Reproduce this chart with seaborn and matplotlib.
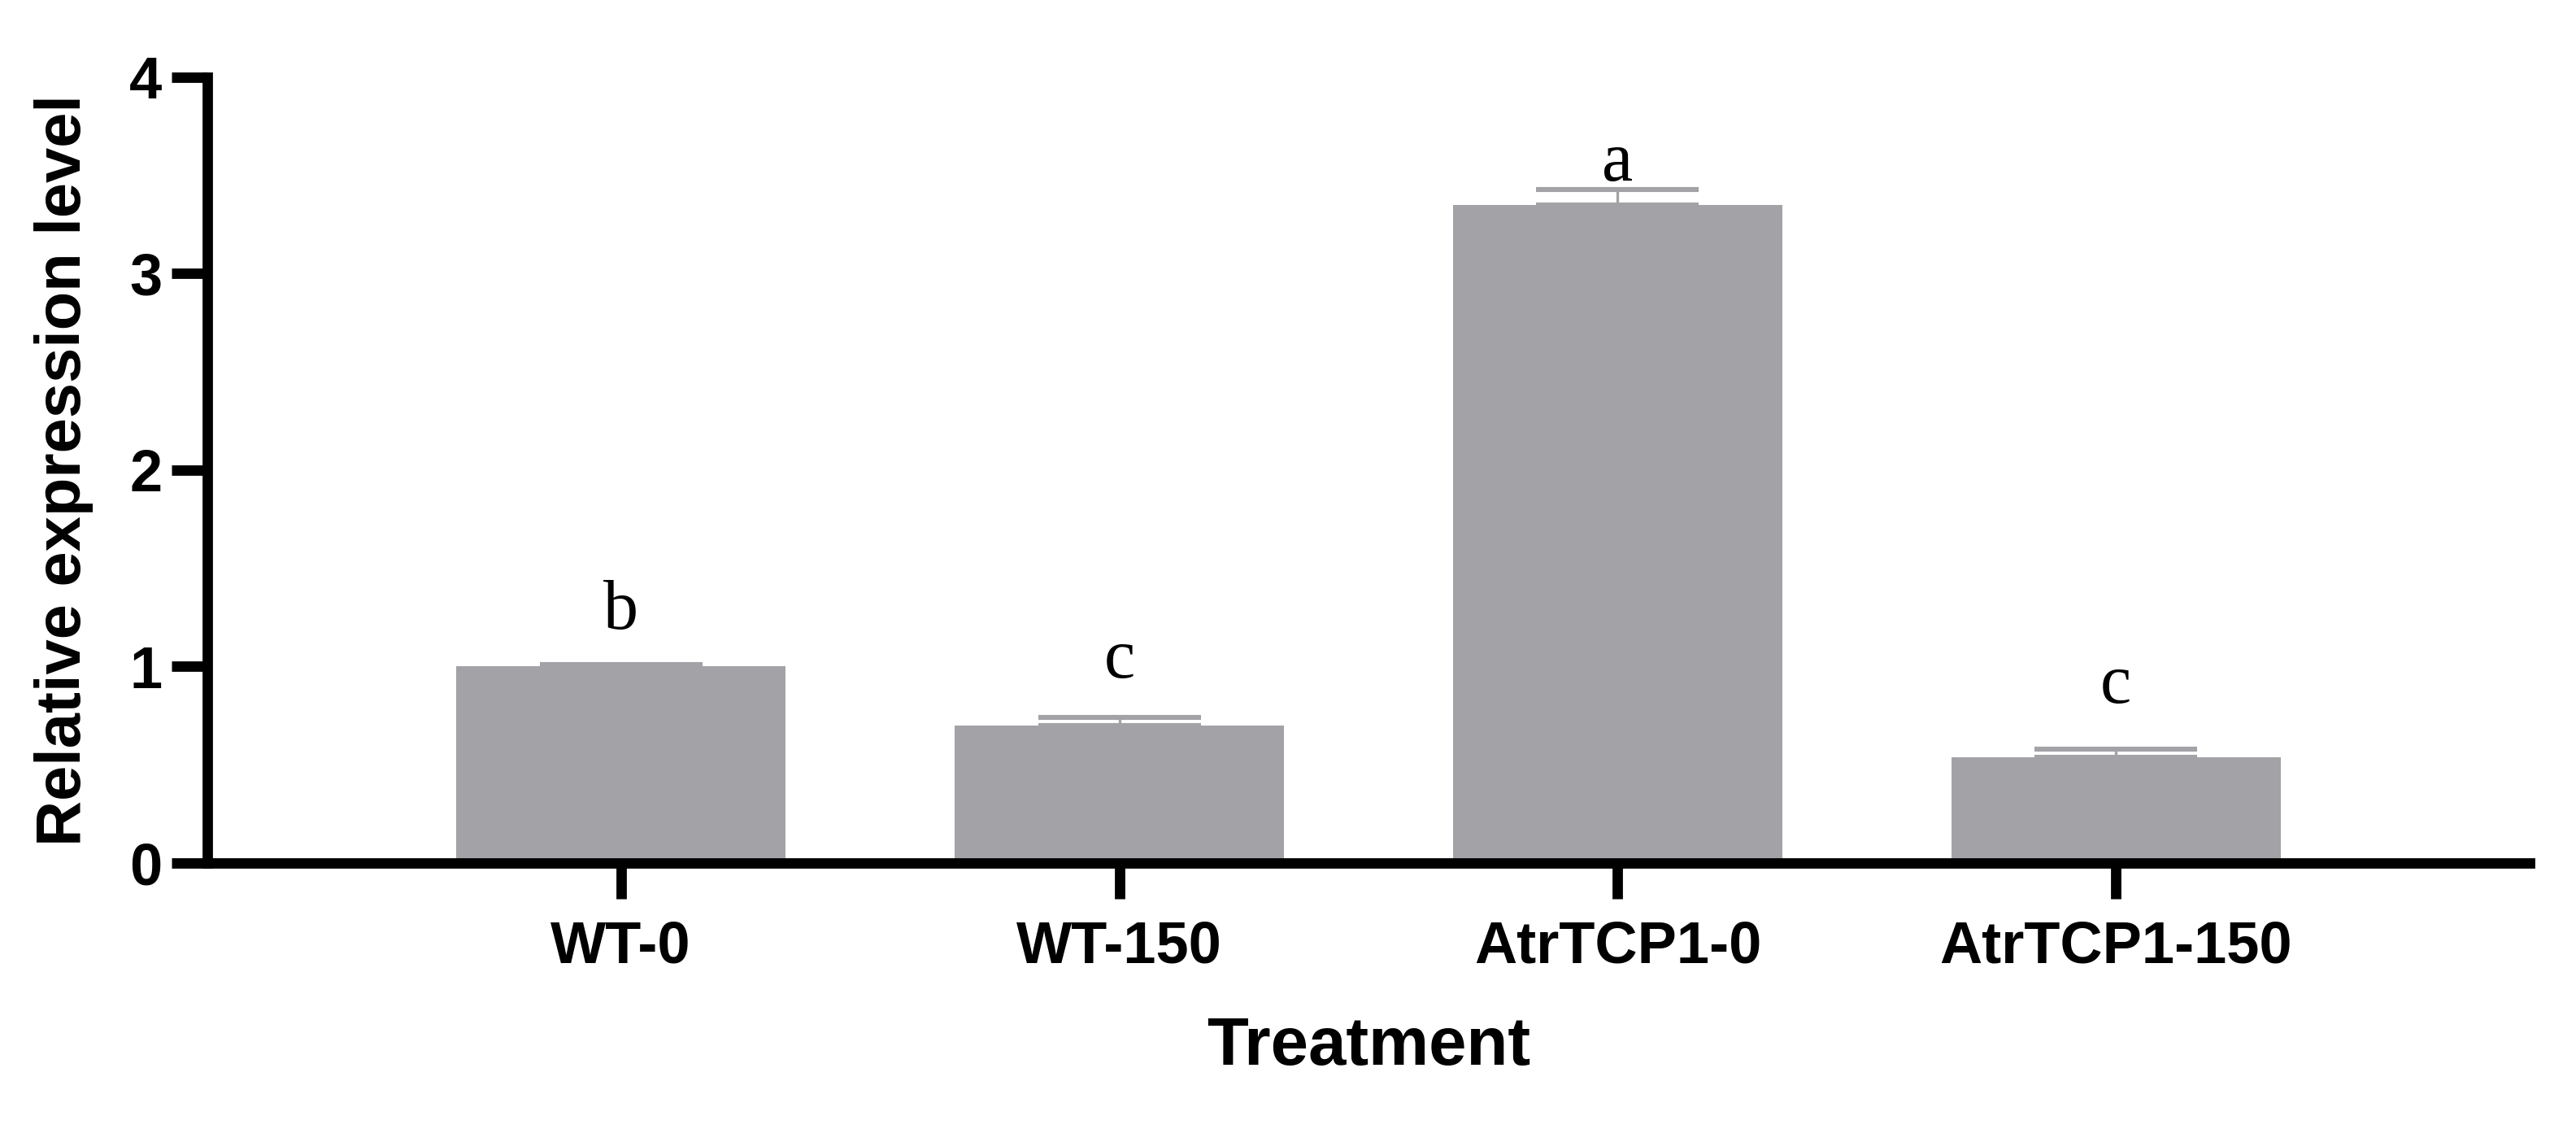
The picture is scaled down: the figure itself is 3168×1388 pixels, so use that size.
import matplotlib
matplotlib.use("Agg")
import matplotlib.pyplot as plt
import seaborn as sns
import pandas as pd
import numpy as np

categories = ["WT-0", "WT-150", "AtrTCP1-0", "AtrTCP1-150"]
values = [1.00, 0.70, 3.35, 0.54]
errors = [0.01, 0.04, 0.08, 0.04]
letters = ["b", "c", "a", "c"]
letter_y = [1.28, 1.03, 3.56, 0.90]

sns.set_theme(style="ticks")
plt.rcParams['font.family'] = ['Liberation Sans', 'DejaVu Sans']
plt.rcParams['text.color'] = 'black'
plt.rcParams['axes.labelcolor'] = 'black'
plt.rcParams['xtick.color'] = 'black'
plt.rcParams['ytick.color'] = 'black'

df = pd.DataFrame({"Treatment": categories, "value": values})

fig = plt.figure(figsize=(15.84, 6.94), dpi=200)
ax = fig.add_axes([0.0805, 0.2356, 0.9015, 0.696])

bar_color = "#A3A2A7"
sns.barplot(data=df, x="Treatment", y="value", color=bar_color, width=0.66,
            errorbar=None, ax=ax, saturation=1)
for p in ax.patches:
    p.set_edgecolor("none")

xpos = np.arange(len(categories))
ax.errorbar(xpos, values, yerr=[np.zeros(len(errors)), errors], fmt="none",
            ecolor="#A3A2A7", elinewidth=1.2, capsize=36, capthick=2.2, zorder=3)

for x, t, ly in zip(xpos, letters, letter_y):
    ax.text(x, ly, t, ha="center", va="center", fontsize=31, color="black",
            family=["Liberation Serif", "DejaVu Serif"])

ax.set_xlim(-0.83, 3.83)
ax.set_ylim(0, 4)
ax.set_yticks([0, 1, 2, 3, 4])
sns.despine(ax=ax)
for s in ["left", "bottom"]:
    ax.spines[s].set_linewidth(4.6)
    ax.spines[s].set_color("black")
    ax.spines[s].set_capstyle("projecting")
ax.tick_params(axis="both", length=16, width=4.6, color="black", labelcolor="black",
               labelsize=26, pad=4)
ax.tick_params(axis="x", pad=9)
for lab in ax.get_xticklabels() + ax.get_yticklabels():
    lab.set_fontweight("bold")
ax.set_xlabel("Treatment", fontsize=30, fontweight="bold", labelpad=18, color="black")
ax.set_ylabel("Relative expression level", fontsize=28, fontweight="bold", labelpad=16,
              color="black")

fig.savefig("out.png", dpi=200, facecolor="white")
